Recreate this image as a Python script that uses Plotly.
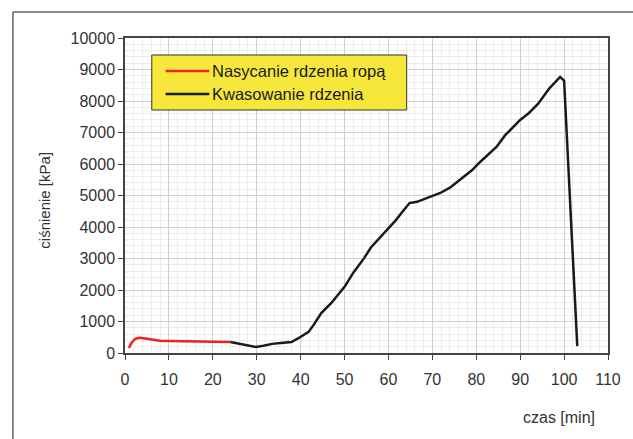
import plotly.graph_objects as go

# Oil saturation of the core (time in min, pressure in kPa)
sat_time = [0.9, 1.5, 2.3, 3.4, 5.0, 6.5, 7.9, 10.0, 12.0, 14.0, 17.0, 20.0, 24.0]
sat_pressure = [160, 330, 450, 480, 450, 420, 390, 380, 375, 355, 350, 350, 350]

# Core acidizing
acid_time = [24.0, 26.0, 28.0, 29.8, 31.5, 33.5, 35.5, 37.9, 39.5, 40.5, 41.8, 43.0, 44.7,
             47.0, 50.0, 52.0, 54.5, 56.0, 58.3, 60.0, 61.7, 63.0, 64.8, 66.5, 68.5,
             70.0, 71.8, 74.0, 77.2, 79.0, 81.0, 83.0, 84.6, 86.5, 88.5, 90.0, 92.0,
             94.0, 96.7, 98.0, 99.1, 100.0, 103.0]
acid_pressure = [350, 300, 240, 190, 230, 290, 320, 350, 470, 560, 670, 900, 1270,
                 1590, 2100, 2550, 3020, 3350, 3690, 3950, 4220, 4450, 4760, 4800, 4900,
                 5000, 5080, 5250, 5590, 5800, 6080, 6350, 6540, 6900, 7200, 7400, 7620,
                 7900, 8410, 8600, 8762, 8650, 220]

series_names = ["Nasycanie rdzenia ropą", "Kwasowanie rdzenia"]
series_colors = ["#ee2020", "#1a1a1a"]

x_ticks = list(range(0, 111, 10))
y_ticks = list(range(0, 10001, 1000))
y_tick_text = [str(v) for v in y_ticks]

font_family = "Liberation Sans, Arial, sans-serif"

# plot area in pixels
L, R, T, B = 125, 612, 38, 353
PW, PH = R - L, B - T


def px(x):
    return (x - L) / PW


def py(y):
    return (B - y) / PH


fig = go.Figure()
fig.add_trace(go.Scatter(x=sat_time, y=sat_pressure, mode="lines",
                         name=series_names[0], showlegend=False,
                         line=dict(color=series_colors[0], width=2.5)))
fig.add_trace(go.Scatter(x=acid_time, y=acid_pressure, mode="lines",
                         name=series_names[1], showlegend=False,
                         line=dict(color=series_colors[1], width=2.5)))

axis_common = dict(
    showline=True, linecolor="#444", linewidth=1.5, mirror=True,
    ticks="outside", ticklen=5, tickcolor="#444",
    showgrid=True, gridcolor="#d0d0d0", gridwidth=1,
    tickfont=dict(family=font_family, size=16, color="#333"),
    zeroline=False,
)

fig.update_xaxes(range=[0, 110], tickvals=x_ticks, ticklabelstandoff=6,
                 minor=dict(dtick=2, showgrid=True, gridcolor="#ececec", ticks=""),
                 **axis_common)
fig.update_yaxes(range=[0, 10000], tickvals=y_ticks, ticktext=y_tick_text,
                 minor=dict(dtick=200, showgrid=True, gridcolor="#ececec", ticks=""),
                 **axis_common)

# outer frame around the chart
fig.add_shape(type="line", xref="paper", yref="paper",
              x0=px(12), x1=px(12), y0=py(460), y1=py(12),
              line=dict(color="#666", width=1.5))
fig.add_shape(type="line", xref="paper", yref="paper",
              x0=px(12), x1=px(650), y0=py(12), y1=py(12),
              line=dict(color="#666", width=1.5))

# legend box
fig.add_shape(type="rect", xref="paper", yref="paper",
              x0=px(152), x1=px(409), y0=py(110), y1=py(55),
              fillcolor="#f6e73a", line=dict(color="#333", width=1))
for i, (name, color) in enumerate(zip(series_names, series_colors)):
    row_y = 71 + 23 * i
    fig.add_shape(type="line", xref="paper", yref="paper",
                  x0=px(166), x1=px(210), y0=py(row_y), y1=py(row_y),
                  line=dict(color=color, width=2.5))
    fig.add_annotation(text=name, xref="paper", yref="paper",
                       x=px(211), y=py(row_y), showarrow=False,
                       xanchor="left", yanchor="middle",
                       font=dict(family=font_family, size=16.5, color="#1a1a1a"))

fig.add_annotation(text="czas [min]", xref="paper", yref="paper",
                   x=px(563), y=py(417),
                   showarrow=False, xanchor="center", yanchor="middle",
                   font=dict(family=font_family, size=16, color="#333"))
fig.add_annotation(text="ciśnienie [kPa]", xref="paper", yref="paper",
                   x=px(44), y=py(200), textangle=-90,
                   showarrow=False, xanchor="center", yanchor="middle",
                   font=dict(family=font_family, size=15, color="#333"))

fig.update_layout(
    width=633, height=439,
    margin=dict(l=L, r=633 - R, t=T, b=439 - B),
    paper_bgcolor="white", plot_bgcolor="white",
    showlegend=False,
)

fig.write_html("out.html")
